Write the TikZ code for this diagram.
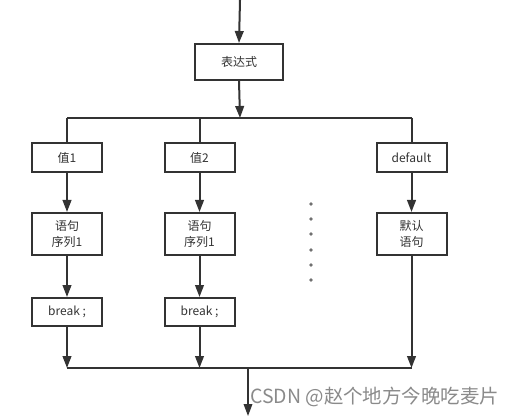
\documentclass[tikz,border=0pt]{standalone}
\usepackage{fontspec}
\setmainfont{Noto Sans CJK SC}
\usetikzlibrary{arrows.meta}
\definecolor{ink}{HTML}{333333}
\definecolor{wm}{HTML}{8A8A8A}
\begin{document}
\begin{tikzpicture}[x=0.75pt,y=-0.75pt,
  box/.style={draw=ink,line width=1.5pt,fill=white,text=ink,inner sep=0pt,
    font=\fontsize{9pt}{11.5pt}\selectfont,align=center},
  wbox/.style={box,minimum width=52.5pt},
  flow/.style={draw=ink,line width=1.5pt},
  arr/.style={flow,-{Triangle[length=9pt,width=6.5pt]}}]
\useasboundingbox (0,0) rectangle (516,416);
% nodes
\node[box,minimum width=66pt,minimum height=27pt] (e) at (239,62) {表达式};
\node[wbox,minimum height=21.75pt] (v1) at (67,157.5) {值1};
\node[wbox,minimum height=21.75pt] (v2) at (199.5,157.5) {值2};
\node[wbox,minimum height=21.75pt] (vd) at (411.5,157.5) {default};
\node[wbox,minimum height=31.5pt] (s1) at (67,234) {语句\\序列1};
\node[wbox,minimum height=31.5pt] (s2) at (199.5,234) {语句\\序列1};
\node[wbox,minimum height=31.5pt] (sd) at (411.5,234) {默认\\语句};
\node[wbox,minimum height=21pt] (b1) at (67,312) {break ;};
\node[wbox,minimum height=21pt] (b2) at (199.5,312) {break ;};
% coordinates
\coordinate (top) at (240,0);
\coordinate (j) at (240,118);
\coordinate (jl) at (67,118);
\coordinate (j2) at (199.5,118);
\coordinate (jr) at (411.5,118);
\coordinate (m1) at (67,368);
\coordinate (m2) at (199.5,368);
\coordinate (mr) at (411.5,368);
\coordinate (mo) at (248,368);
\coordinate (out) at (248,416);
% connectors
\draw[arr] (top) -- (e.north);
\draw[arr] (e.south) -- (j);
\draw[flow] (jl) -- (jr);
\draw[flow] (jl) -- (v1.north);
\draw[flow] (j2) -- (v2.north);
\draw[flow] (jr) -- (vd.north);
\draw[arr] (v1.south) -- (s1.north);
\draw[arr] (v2.south) -- (s2.north);
\draw[arr] (vd.south) -- (sd.north);
\draw[arr] (s1.south) -- (b1.north);
\draw[arr] (s2.south) -- (b2.north);
\draw[arr] (b1.south) -- (m1);
\draw[arr] (b2.south) -- (m2);
\draw[arr] (sd.south) -- (mr);
\draw[flow] (m1) -- (mr);
\draw[draw=ink,line width=1pt,-{Triangle[length=9pt,width=6.5pt]}] (mo) -- (out);
% dots
\foreach \yy in {204,219,234,250,265,280}
  \fill[ink!70] (311,\yy) circle (1.4pt);
% watermark
\node[text=wm,anchor=west,inner sep=0pt,font=\fontsize{14.6pt}{17pt}\selectfont] (wmk) at (250,397) {CSDN @赵个地方今晚吃麦片};
\end{tikzpicture}
\end{document}
